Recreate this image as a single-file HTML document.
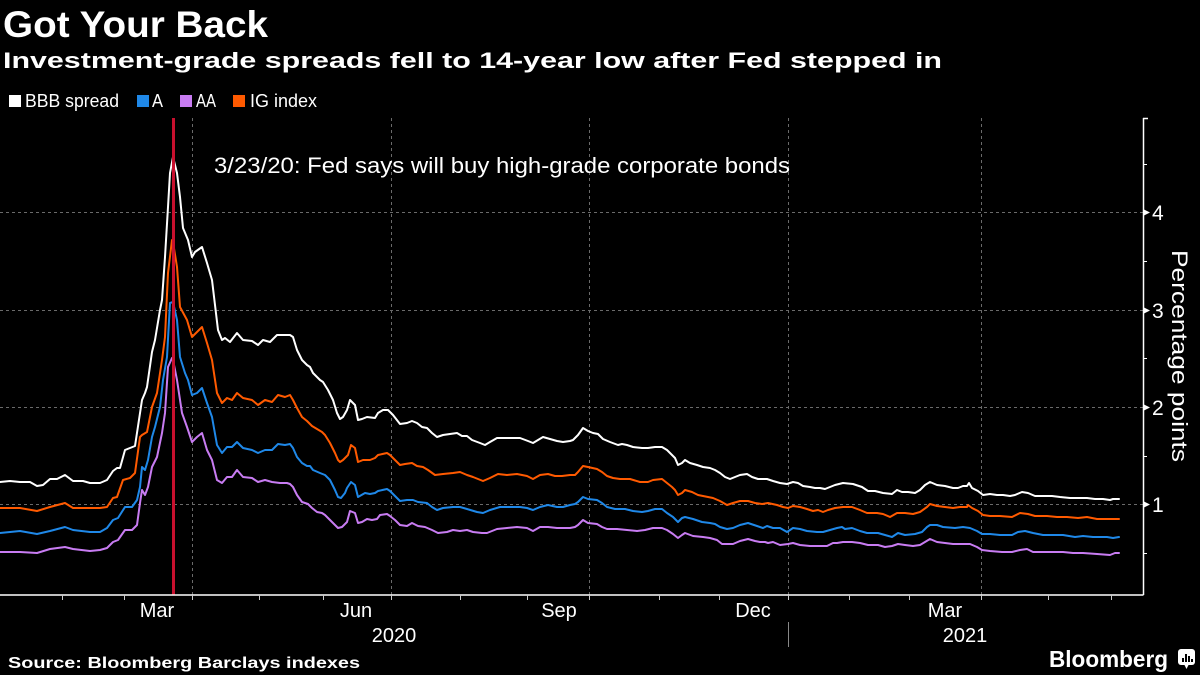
<!DOCTYPE html>
<html><head><meta charset="utf-8"><style>
html,body{margin:0;padding:0;background:#000;}
svg{display:block;}
text{font-family:"Liberation Sans",sans-serif;fill:#fff;}
</style></head><body>
<svg width="1200" height="675" viewBox="0 0 1200 675" xmlns="http://www.w3.org/2000/svg">
<rect width="1200" height="675" fill="#000"/>
<text x="3" y="37" font-size="37" font-weight="bold" textLength="265" lengthAdjust="spacingAndGlyphs">Got Your Back</text>
<text x="3" y="68" font-size="22" font-weight="bold" textLength="939" lengthAdjust="spacingAndGlyphs">Investment-grade spreads fell to 14-year low after Fed stepped in</text>
<rect x="9" y="95" width="12" height="12" fill="#fff"/>
<text x="25" y="107" font-size="18" textLength="94" lengthAdjust="spacingAndGlyphs">BBB spread</text>
<rect x="137" y="95" width="12" height="12" fill="#1f88e8"/>
<text x="152" y="107" font-size="18" textLength="11" lengthAdjust="spacingAndGlyphs">A</text>
<rect x="180" y="95" width="12" height="12" fill="#c87cf2"/>
<text x="196" y="107" font-size="18" textLength="20" lengthAdjust="spacingAndGlyphs">AA</text>
<rect x="233" y="95" width="12" height="12" fill="#ff5a00"/>
<text x="250" y="107" font-size="18" textLength="67" lengthAdjust="spacingAndGlyphs">IG index</text>

<g stroke="#6a6a6a" stroke-width="1" stroke-dasharray="3,3" fill="none">
<line x1="0" y1="212.5" x2="1143" y2="212.5"/>
<line x1="0" y1="310.5" x2="1143" y2="310.5"/>
<line x1="0" y1="407.5" x2="1143" y2="407.5"/>
<line x1="0" y1="504.5" x2="1143" y2="504.5"/>
<line x1="192.5" y1="118" x2="192.5" y2="595"/>
<line x1="391.5" y1="118" x2="391.5" y2="595"/>
<line x1="589.5" y1="118" x2="589.5" y2="595"/>
<line x1="788.5" y1="118" x2="788.5" y2="595"/>
<line x1="981.5" y1="118" x2="981.5" y2="595"/>
</g>

<text x="214" y="173" font-size="22" textLength="576" lengthAdjust="spacingAndGlyphs">3/23/20: Fed says will buy high-grade corporate bonds</text>

<g fill="none" stroke-width="2" stroke-linejoin="round" stroke-linecap="round">
<polyline stroke="#c87cf2" points="0,552 20,552 37,553 50,549 65,547 73,549 90,551 100,550 107,548 113,542 118,540 125,530 132,530 137,525 140,503 142,490 145,495 148,487 152,467 157,457 162,433 165,413 168,367 172,358 173,360 177,380 182,413 187,427 192,442 197,437 202,433 207,450 212,460 217,480 222,483 227,477 232,477 237,470 243,477 252,478 258,482 265,480 272,482 280,483 287,483 290,484 293,487 297,495 302,502 308,504 312,508 317,512 322,513 325,515 330,520 335,525 338,528 342,527 347,522 350,511 355,513 358,523 362,522 367,519 372,520 377,519 380,515 387,514 390,516 395,520 400,525 407,526 412,523 418,526 425,527 432,530 438,533 447,532 453,530 460,531 467,530 473,532 482,533 487,533 497,529 507,528 517,527 527,528 533,531 540,527 548,527 557,528 570,528 575,527 578,525 583,520 588,523 597,524 602,527 607,529 617,529 627,530 637,531 645,530 653,528 662,528 667,530 673,534 678,538 682,535 685,533 693,536 703,537 710,538 717,540 722,544 733,544 740,541 748,539 755,541 760,542 765,542 768,543 773,542 780,545 788,544 793,543 800,545 810,546 820,546 827,546 833,543 837,543 843,542 852,542 860,543 868,545 878,545 885,547 892,546 898,544 905,545 913,546 920,545 925,542 930,539 937,542 945,543 953,544 962,544 970,544 977,547 982,550 990,551 1002,552 1012,552 1020,550 1027,549 1033,552 1043,552 1052,552 1063,552 1073,553 1083,553 1097,554 1110,555 1115,553 1119,553"/>
<polyline stroke="#1f88e8" points="0,533 20,531 37,534 50,531 65,527 73,530 90,532 100,532 107,528 113,520 118,518 125,507 132,507 137,500 140,487 142,467 145,470 148,460 152,437 155,427 160,407 163,380 167,357 170,303 173,302 177,320 180,357 185,373 188,380 192,395 197,393 202,388 207,403 212,417 217,445 222,453 227,447 232,447 237,442 243,448 252,450 258,453 265,450 272,450 278,444 285,445 290,444 293,448 297,457 302,463 307,466 310,466 313,470 320,473 325,475 330,480 335,490 338,497 341,498 345,493 347,488 351,482 355,485 358,497 365,493 370,494 375,493 378,491 387,489 390,491 395,496 400,501 407,500 413,500 418,502 427,503 432,507 437,510 443,508 453,507 460,507 467,509 477,512 483,513 490,510 500,507 510,507 520,507 527,508 533,510 540,507 548,505 557,507 563,507 570,505 575,504 578,502 583,497 588,499 597,500 602,503 607,507 615,509 625,509 633,511 642,512 648,511 655,509 662,509 667,513 673,517 678,522 682,518 685,517 693,519 702,522 710,523 715,524 720,527 727,529 733,528 740,525 748,523 757,526 763,528 767,526 773,528 780,528 787,532 793,528 800,529 807,531 817,532 823,532 830,530 837,528 842,527 845,529 852,528 860,531 867,533 878,533 885,535 892,537 898,533 905,535 915,534 922,532 927,527 930,525 937,525 943,527 955,528 963,527 970,528 977,531 982,534 990,534 1000,535 1012,535 1018,532 1025,531 1033,533 1043,535 1053,535 1063,535 1075,537 1083,536 1093,537 1107,537 1113,538 1119,537"/>
<polyline stroke="#ff5a00" points="0,508 20,508 37,511 50,507 65,503 73,508 90,508 100,508 107,507 113,498 117,497 123,480 130,478 135,473 140,437 142,435 147,432 152,407 157,393 162,360 165,337 168,273 172,240 173,242 177,267 180,307 187,320 192,337 197,332 202,327 207,343 212,360 217,393 222,403 227,398 232,400 237,393 243,398 252,400 258,405 265,400 272,402 278,395 285,397 290,395 293,400 297,408 302,417 307,421 312,426 317,429 322,432 325,435 330,443 335,453 338,460 340,462 343,460 348,455 351,445 355,448 358,462 363,460 370,460 375,458 378,455 387,453 390,455 395,460 400,465 405,464 412,463 417,466 423,467 428,470 435,475 443,474 453,473 460,472 467,475 473,477 483,481 490,478 498,474 507,475 517,474 527,476 533,479 540,475 548,474 555,476 562,476 570,475 575,475 578,472 583,466 588,467 597,469 602,472 607,476 613,478 620,479 630,479 640,482 648,482 653,480 662,479 667,483 672,487 675,490 678,495 682,493 685,490 692,492 698,495 703,496 708,497 713,498 720,501 727,505 733,503 740,501 748,501 755,503 762,504 768,503 777,505 783,507 788,508 793,506 800,507 807,509 813,511 818,510 823,512 828,510 835,508 843,507 852,507 860,510 867,513 877,513 883,514 890,517 897,513 905,513 913,514 920,512 927,507 930,504 937,506 945,507 953,508 960,507 967,507 968,505 972,508 978,511 983,515 990,516 1000,516 1012,517 1020,513 1028,514 1035,516 1047,516 1057,517 1067,517 1078,518 1087,517 1097,519 1107,519 1113,519 1119,519"/>
<polyline stroke="#ffffff" points="0,482 10,481 20,482 30,482 37,486 43,485 50,479 57,479 65,475 73,481 83,481 90,483 100,483 107,480 113,471 117,468 120,468 125,450 130,448 135,446 142,400 145,393 147,387 152,352 155,340 160,310 162,300 165,257 168,207 170,173 173,157 177,173 180,197 183,228 188,240 192,257 195,252 202,247 207,263 212,280 218,330 222,340 225,338 230,342 237,333 243,340 252,341 258,345 263,340 270,342 277,335 283,335 290,335 293,337 297,350 302,360 307,365 310,367 313,373 320,380 323,382 328,390 333,400 337,413 340,419 343,417 347,410 350,400 355,405 358,420 362,419 367,417 375,418 378,413 383,410 388,410 393,415 400,424 407,423 412,421 417,423 422,427 427,428 432,433 437,437 443,435 450,434 457,433 462,436 467,436 472,440 480,443 485,445 490,442 497,438 507,438 520,438 528,441 533,443 538,440 543,437 550,439 557,441 563,442 570,441 573,440 578,435 583,428 588,431 593,433 598,434 603,439 610,442 618,445 622,444 627,445 633,447 642,448 648,448 655,447 662,447 667,450 672,455 675,458 678,465 682,463 685,460 690,463 697,465 703,467 710,468 715,470 720,473 725,477 730,479 735,477 740,475 747,474 752,477 758,479 767,479 773,481 780,483 787,484 793,482 798,483 803,486 810,487 815,488 820,488 825,489 830,487 835,485 843,483 853,484 862,487 868,491 875,491 883,493 892,494 897,490 902,492 908,492 915,493 920,490 925,485 930,482 937,485 945,486 953,488 958,488 963,486 967,486 969,483 972,488 978,491 983,495 990,494 997,495 1003,495 1010,496 1015,495 1022,492 1028,493 1035,496 1043,496 1052,496 1060,497 1070,498 1078,498 1087,498 1095,499 1103,499 1110,500 1113,499 1119,499"/>
</g>

<line x1="173.5" y1="118" x2="173.5" y2="595" stroke="#c8102e" stroke-width="3"/>

<g stroke="#fff" stroke-width="1.5">
<line x1="0" y1="595" x2="1143.5" y2="595"/>
<line x1="1143.5" y1="118" x2="1143.5" y2="595"/>
<line x1="1143" y1="118.5" x2="1148" y2="118.5"/>
</g>
<g stroke="#fff" stroke-width="1">
<line x1="1143" y1="164.5" x2="1147" y2="164.5"/>
<line x1="1143" y1="261.5" x2="1147" y2="261.5"/>
<line x1="1143" y1="358.5" x2="1147" y2="358.5"/>
<line x1="1143" y1="456.5" x2="1147" y2="456.5"/>
<line x1="1143" y1="553.5" x2="1147" y2="553.5"/>
</g>
<g fill="#fff">
<polygon points="1143,209 1150,212.5 1143,216"/>
<polygon points="1143,307 1150,310.5 1143,314"/>
<polygon points="1143,404 1150,407.5 1143,411"/>
<polygon points="1143,501 1150,504.5 1143,508"/>
</g>
<g font-size="21">
<text x="1152" y="220">4</text>
<text x="1152" y="318">3</text>
<text x="1152" y="415">2</text>
<text x="1152" y="512">1</text>
</g>
<text transform="translate(1172,356) rotate(90)" x="0" y="0" font-size="22" text-anchor="middle" textLength="212" lengthAdjust="spacingAndGlyphs">Percentage points</text>

<g stroke="#ccc" stroke-width="1">
<line x1="62.5" y1="595" x2="62.5" y2="600"/>
<line x1="124.5" y1="595" x2="124.5" y2="600"/>
<line x1="192.5" y1="595" x2="192.5" y2="600"/>
<line x1="259.5" y1="595" x2="259.5" y2="600"/>
<line x1="323.5" y1="595" x2="323.5" y2="600"/>
<line x1="391.5" y1="595" x2="391.5" y2="600"/>
<line x1="460.5" y1="595" x2="460.5" y2="600"/>
<line x1="527.5" y1="595" x2="527.5" y2="600"/>
<line x1="589.5" y1="595" x2="589.5" y2="600"/>
<line x1="659.5" y1="595" x2="659.5" y2="600"/>
<line x1="719.5" y1="595" x2="719.5" y2="600"/>
<line x1="788.5" y1="595" x2="788.5" y2="600"/>
<line x1="849.5" y1="595" x2="849.5" y2="600"/>
<line x1="909.5" y1="595" x2="909.5" y2="600"/>
<line x1="981.5" y1="595" x2="981.5" y2="600"/>
<line x1="1048.5" y1="595" x2="1048.5" y2="600"/>
<line x1="1111.5" y1="595" x2="1111.5" y2="600"/>
<line x1="788.5" y1="622" x2="788.5" y2="647" stroke="#888"/>
</g>
<g font-size="20" text-anchor="middle">
<text x="157" y="617">Mar</text>
<text x="356" y="617">Jun</text>
<text x="559" y="617">Sep</text>
<text x="753" y="617">Dec</text>
<text x="945" y="617">Mar</text>
<text x="394" y="642">2020</text>
<text x="965" y="642">2021</text>
</g>

<text x="8" y="668" font-size="16" font-weight="bold" textLength="352" lengthAdjust="spacingAndGlyphs">Source: Bloomberg Barclays indexes</text>
<text x="1049" y="667" font-size="23" font-weight="bold" textLength="119" lengthAdjust="spacingAndGlyphs">Bloomberg</text>
<rect x="1178" y="649" width="17" height="16" rx="3" fill="#fff"/>
<polygon points="1184,664 1189,664 1186.5,669" fill="#fff"/>
<g fill="#000">
<rect x="1182" y="658" width="2" height="4"/>
<rect x="1185" y="654" width="2" height="8"/>
<rect x="1188" y="656" width="2" height="6"/>
<rect x="1191" y="659" width="2" height="3"/>
</g>
</svg>
</body></html>
